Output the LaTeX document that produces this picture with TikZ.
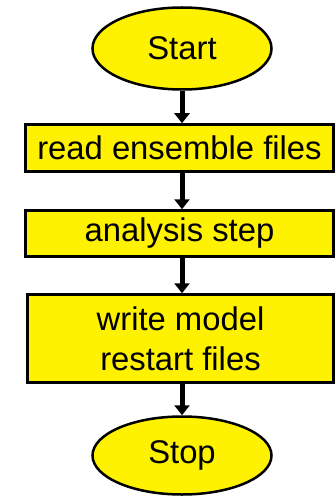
\documentclass[tikz,border=0pt]{standalone}
\usepackage{fontspec}
\setmainfont{Liberation Sans}
\usetikzlibrary{shapes.geometric,arrows.meta}

\tikzset{
  termnode/.style={ellipse, draw, line width=2.5pt, fill=yellow, inner sep=0pt,
    minimum width=179pt, minimum height=82pt},
  procbox/.style={rectangle, draw, line width=2.5pt, fill=yellow, inner sep=0pt,
    align=center, minimum width=308pt},
  flowarrow/.style={line width=5pt, -{Triangle[width=15pt,length=10pt]}}
}

\begin{document}
\begin{tikzpicture}[x=1pt, y=-1pt, font=\fontsize{32.8}{40}\selectfont]
      \useasboundingbox (0,0) rectangle (336,497);

      % Start and Stop ovals
      \node[termnode] (start) at (182,48.5) {Start};
      \node[termnode, minimum height=78pt] (stop) at (182,455.5) {Stop};

      % the three steps
      \node[procbox, minimum height=47pt] (read) at (179.5,148) {read ensemble files};
      \node[procbox, minimum height=46pt] (anal) at (179.5,233.5) {analysis step};
      \node[procbox, minimum width=306pt, minimum height=88pt] (write) at (180.5,338.5)
        {write model\\restart files};

      % arrows between them
      \draw[flowarrow] (start.south) -- (start.south |- read.north);
      \draw[flowarrow] (start.south |- read.south) -- (start.south |- anal.north);
      \draw[flowarrow] (start.south |- anal.south) -- (start.south |- write.north);
      \draw[flowarrow] (start.south |- write.south) -- (stop.north);
\end{tikzpicture}
\end{document}
